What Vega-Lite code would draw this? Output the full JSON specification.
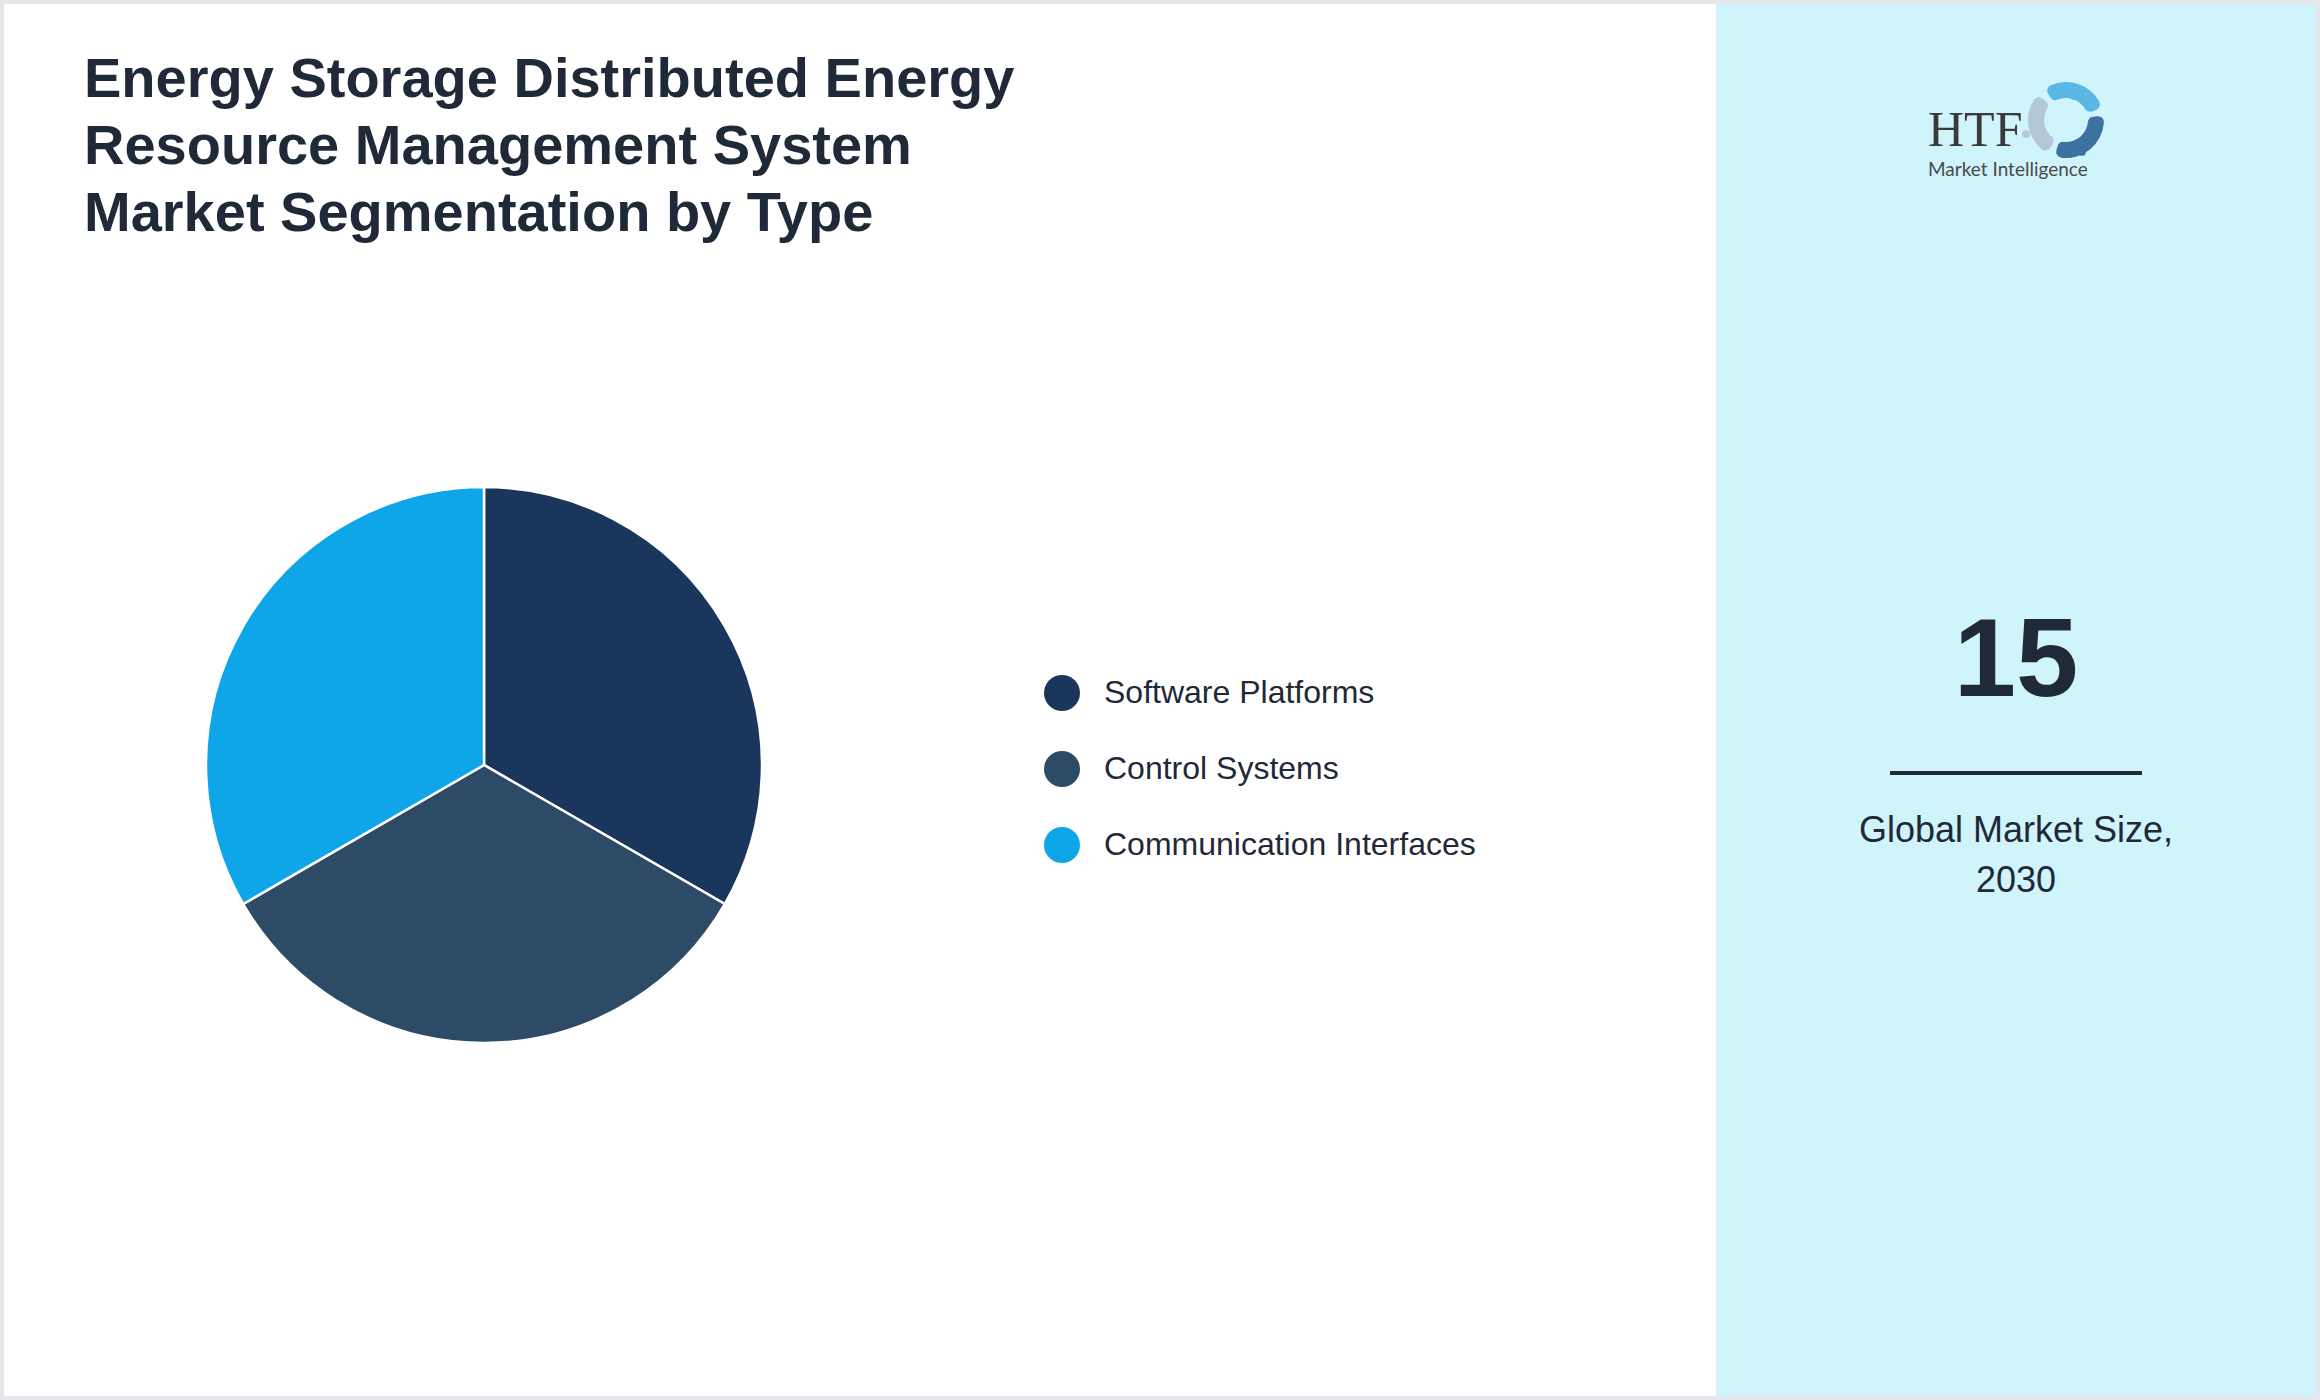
{
  "$schema": "https://vega.github.io/schema/vega-lite/v6.json",
  "background": "#e5e7eb",
  "padding": 4,
  "spacing": 0,
  "config": {
    "view": {"stroke": null},
    "font": "Liberation Sans"
  },
  "hconcat": [
    {
      "width": 1712,
      "height": 1392,
      "view": {"fill": "#ffffff"},
      "layer": [
        {
          "data": {
            "values": [
              {"type": "Software Platforms", "share": 33.3},
              {"type": "Control Systems", "share": 33.3},
              {"type": "Communication Interfaces", "share": 33.3}
            ]
          },
          "mark": {"type": "arc", "outerRadius": 278, "stroke": "#ffffff", "strokeWidth": 2.5, "x": 480, "y": 761},
          "encoding": {
            "theta": {"field": "share", "type": "quantitative", "stack": true},
            "order": {"field": "type", "sort": "descending"},
            "color": {
              "field": "type",
              "type": "nominal",
              "scale": {
                "domain": ["Software Platforms", "Control Systems", "Communication Interfaces"],
                "range": ["#1b365d", "#2d4a66", "#0ea5e9"]
              },
              "legend": {
                "orient": "none",
                "legendX": 1040,
                "legendY": 671,
                "title": null,
                "padding": 0,
                "symbolType": "circle",
                "symbolSize": 1296,
                "symbolStrokeWidth": 0,
                "symbolOpacity": 1,
                "labelFont": "Liberation Sans",
                "labelFontSize": 32,
                "labelColor": "#1f2937",
                "labelOffset": 24,
                "labelLimit": 700,
                "rowPadding": 40
              }
            }
          }
        },
        {
          "data": {"values": [{}]},
          "mark": {
            "type": "text",
            "text": ["Energy Storage Distributed Energy", "Resource Management System", "Market Segmentation by Type"],
            "font": "Liberation Sans",
            "fontWeight": "bold",
            "fontSize": 56,
            "lineHeight": 67,
            "color": "#1f2937",
            "align": "left",
            "baseline": "alphabetic"
          },
          "encoding": {
            "x": {"value": 80},
            "y": {"value": 93}
          }
        }
      ]
    },
    {
      "width": 600,
      "height": 1392,
      "view": {"fill": "#cff4fc"},
      "layer": [
        {
          "data": {"values": [{"metric": "Global Market Size, 2030", "value": 15}]},
          "mark": {"type": "text", "font": "Liberation Sans", "fontWeight": "bold", "fontSize": 112, "color": "#1f2937", "align": "center", "baseline": "alphabetic"},
          "encoding": {
            "text": {"field": "value", "type": "quantitative"},
            "x": {"value": 300},
            "y": {"value": 692}
          }
        },
        {
          "data": {"values": [{}]},
          "mark": {"type": "rule", "color": "#1f2937", "strokeWidth": 4},
          "encoding": {
            "x": {"value": 174},
            "x2": {"value": 426},
            "y": {"value": 769}
          }
        },
        {
          "data": {"values": [{}]},
          "mark": {
            "type": "text",
            "text": ["Global Market Size,", "2030"],
            "font": "Liberation Sans",
            "fontSize": 36,
            "lineHeight": 50,
            "color": "#1f2937",
            "align": "center",
            "baseline": "alphabetic"
          },
          "encoding": {
            "x": {"value": 300},
            "y": {"value": 838}
          }
        },
        {
          "data": {"values": [{}]},
          "mark": {"type": "text", "text": "HTF", "font": "Liberation Serif", "fontSize": 50, "color": "#3a3a3a", "align": "left", "baseline": "alphabetic"},
          "encoding": {"x": {"value": 212}, "y": {"value": 142}}
        },
        {
          "data": {"values": [{}]},
          "mark": {"type": "text", "text": "Market Intelligence", "font": "Lato", "fontSize": 19, "color": "#4a4a4a", "align": "left", "baseline": "alphabetic"},
          "encoding": {"x": {"value": 212}, "y": {"value": 172}}
        },
        {
          "data": {"values": [{}]},
          "mark": {"type": "arc", "innerRadius": 22, "outerRadius": 38, "theta": -0.6, "theta2": 1.25, "cornerRadius": 6, "color": "#5ab6e2", "x": 350, "y": 116}
        },
        {
          "data": {"values": [{}]},
          "mark": {"type": "arc", "innerRadius": 22, "outerRadius": 38, "theta": 1.45, "theta2": 3.45, "cornerRadius": 6, "color": "#3d72a0", "x": 350, "y": 116}
        },
        {
          "data": {"values": [{}]},
          "mark": {"type": "arc", "innerRadius": 22, "outerRadius": 38, "theta": 3.65, "theta2": 5.45, "cornerRadius": 6, "color": "#b3c7d8", "x": 350, "y": 116}
        },
        {
          "data": {"values": [{}]},
          "mark": {"type": "point", "shape": "circle", "filled": true, "size": 60, "opacity": 1, "color": "#5ab6e2"},
          "encoding": {"x": {"value": 358}, "y": {"value": 92}}
        },
        {
          "data": {"values": [{}]},
          "mark": {"type": "point", "shape": "circle", "filled": true, "size": 60, "opacity": 1, "color": "#3d72a0"},
          "encoding": {"x": {"value": 366}, "y": {"value": 148}}
        },
        {
          "data": {"values": [{}]},
          "mark": {"type": "point", "shape": "circle", "filled": true, "size": 60, "opacity": 1, "color": "#b3c7d8"},
          "encoding": {"x": {"value": 310}, "y": {"value": 130}}
        }
      ]
    }
  ]
}
